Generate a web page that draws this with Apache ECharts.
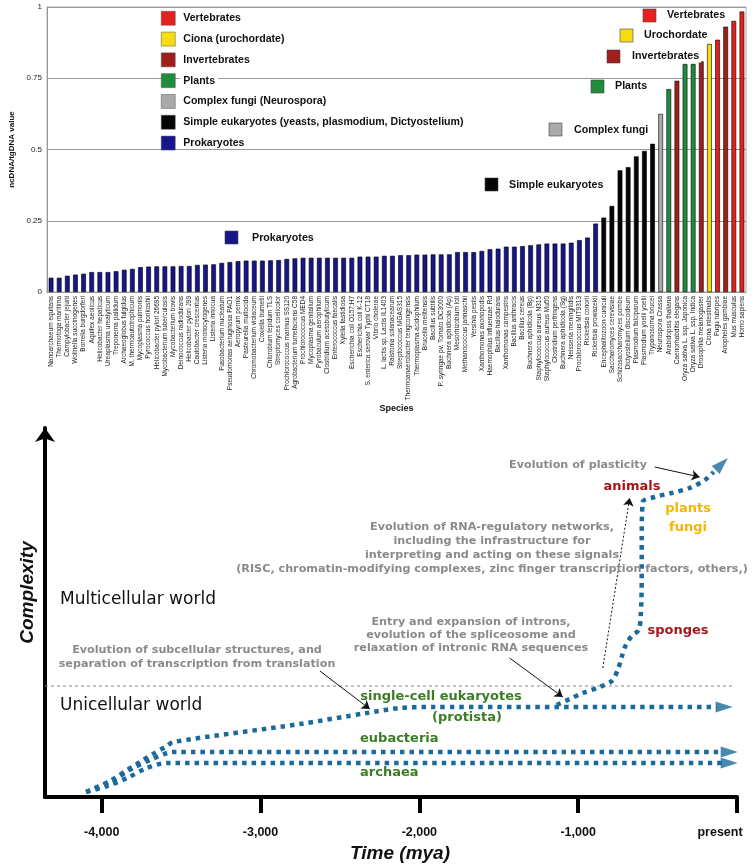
<!DOCTYPE html>
<html><head><meta charset="utf-8">
<script src="https://cdn.jsdelivr.net/npm/echarts@6/dist/echarts.min.js"></script>
<style>html,body{margin:0;padding:0;background:#fff}#c{width:755px;height:866px}</style>
</head><body><div id="c"></div>
<script>
// ---------- top chart data ----------
const species = [
 'Nanoarchaeum equitans','Thermotoga maritima','Campylobacter jejuni','Wolinella succinogenes','Borrelia burgdorferi',
 'Aquifex aeolicus','Helicobacter hepaticus','Ureaplasma urealyticum','Treponema pallidum','Archaeoglobus fulgidus',
 'M. thermoautotrophicum','Mycoplasma pulmonis','Pyrococcus horikoshii','Helicobacter pylori 26695','Mycobacterium tuberculosis',
 'Mycobacterium bovis','Deinococcus radiodurans','Helicobacter pylori J99','Caulobacter crescentus','Listeria monocytogenes',
 'Listeria innocua','Fusobacterium nucleatum','Pseudomonas aeruginosa PAO1','Aeropyrum pernix','Pasteurella multocida',
 'Chromobacterium violaceum','Coxiella burnetii','Chlorobium tepidum TLS','Streptomyces coelicolor','Prochlorococcus marinus SS120',
 'Agrobacterium tumefaciens C58','Prochlorococcus MED4','Mycoplasma genitalium','Pyrobaculum aerophilum','Clostridium acetobutylicum',
 'Enterococcus faecalis','Xylella fastidiosa','Escherichia coli O157:H7','Escherichia coli K-12','S. enterica serovar Typhi CT18',
 'Vibrio cholerae','L. lactis sp. Lactis IL1403','Ralstonia solanacearum','Streptococcus MGAS315','Thermoanaerobacter tengcongensis',
 'Thermoplasma acidophilum','Brucella melitensis','Bacillus subtilis','P. syringae pv. Tomato DC3000','Buchnera aphidicola (Ap)',
 'Mesorhizobium loti','Methanococcus jannaschii','Yersinia pestis','Xanthomonas axonopodis','Haemophilus influenzae Rd',
 'Bacillus halodurans','Xanthomonas campestris','Bacillus anthracis','Bacillus cereus','Buchnera aphidicola (Bp)',
 'Staphylococcus aureus N315','Staphylococcus aureus Mu50','Clostridium perfringens','Buchnera aphidicola (Sg)','Neisseria meningitidis',
 'Prochlorococcus MIT9313','Rickettsia conorii','Rickettsia prowazekii','Encephalitozoon cuniculi','Saccharomyces cerevisiae',
 'Schizosaccharomyces pombe','Dictyostelium discoideum','Plasmodium falciparum','Plasmodium yoelii yoelii','Trypanosoma brucei',
 'Neurospora Crassa','Arabidopsis thaliana','Caenorhabditis elegans','Oryza sativa L. ssp. Japonica','Oryza sativa L. ssp. Indica',
 'Drosophila melanogaster','Ciona intestinalis','Fugu rubripes','Anopheles gambiae','Mus musculus','Homo sapiens'
];
const ncRatio = [
 0.050,0.050,0.057,0.061,0.064,0.070,0.070,0.070,0.073,0.078,
 0.081,0.087,0.089,0.090,0.090,0.090,0.091,0.091,0.095,0.096,
 0.097,0.102,0.105,0.108,0.110,0.110,0.110,0.111,0.112,0.116,
 0.118,0.120,0.120,0.120,0.120,0.120,0.120,0.120,0.124,0.124,
 0.124,0.127,0.127,0.129,0.129,0.131,0.131,0.132,0.132,0.132,
 0.140,0.140,0.140,0.144,0.150,0.152,0.159,0.159,0.161,0.164,
 0.167,0.170,0.170,0.170,0.173,0.182,0.191,0.240,0.261,0.302,
 0.427,0.438,0.476,0.495,0.520,0.625,0.712,0.741,0.800,0.800,
 0.809,0.870,0.885,0.931,0.951,0.984
];
// group code per species: P prokaryote, S simple eukaryote, F complex fungi, L plant, I invertebrate, C ciona, V vertebrate
const speciesGroup = [
 'P','P','P','P','P','P','P','P','P','P','P','P','P','P','P','P','P','P','P','P',
 'P','P','P','P','P','P','P','P','P','P','P','P','P','P','P','P','P','P','P','P',
 'P','P','P','P','P','P','P','P','P','P','P','P','P','P','P','P','P','P','P','P',
 'P','P','P','P','P','P','P','P','S','S','S','S','S','S','S','F','L','I','L','L',
 'I','C','V','I','V','V'
];
const groupCodes  = ['V','C','I','L','F','S','P'];
const groupNames  = ['Vertebrates','Ciona (urochordate)','Invertebrates','Plants','Complex fungi (Neurospora)','Simple eukaryotes (yeasts, plasmodium, Dictyostelium)','Prokaryotes'];
const groupColors = ['#e4211d','#f8dc12','#a11f1b','#1f8d3b','#aaaaaa','#050505','#16168a'];

// ---------- bottom diagram data (time in mya, complexity in arbitrary units) ----------
const timeTicks = [-4000, -3000, -2000, -1000, 0];
const archaeaPath    = [[-4098,5],[-3966,11],[-3840,19],[-3715,29],[-3589,34],[-96,34]];
const eubacteriaPath = [[-4098,5],[-3929,17],[-3803,29],[-3696,37],[-3589,44],[-3545,45],[-96,45]];
const eukaryotePath  = [[-4098,5],[-3947,16],[-3840,27],[-3759,35],[-3677,43],[-3589,51],[-3551,55],[-2752,73],[-2330,84],[-2123,89],[-1915,90],[-128,90]];
const multicellPath  = [[-1135,92],[-1053,98],[-971,104],[-864,110],[-789,116],[-751,127],[-726,140],[-700,152],[-663,161],[-619,167],[-606,182],[-600,217],[-600,257],[-593,295],[-518,300],[-411,304],[-298,309],[-203,317],[-147,325]];
const arrowHeads     = [[-49,34,-90],[-49,45,-90],[-81,90,-90],[-96,333,-45]];
const cellBoundary   = [[-4357,111],[-27,111]];
const noteArrows     = [[[-2626,126],[-2312,88]],[[-1432,139],[-1097,100]],[[-518,330],[-235,320]]];
const noteDotted     = [[[-845,129],[-676,299]]];

const FONT = 'Liberation Sans, Arial, Helvetica, sans-serif';
const DJ = 'DejaVu Sans, Verdana, sans-serif';
const BLUE = '#1c6a9b';
const GRAY = '#8a8a8a';
const GREEN = '#3a7d24';
const DRED = '#a3161a';

const chart = echarts.init(document.getElementById('c'), null, {renderer:'canvas'});

const barSeries = groupCodes.map((g, k) => ({
  name: groupNames[k], type: 'bar', stack: 'ratio', xAxisIndex: 0, yAxisIndex: 0,
  barWidth: '58%',
  itemStyle: { color: groupColors[k], borderColor: '#000', borderWidth: 0.6 },
  data: ncRatio.map((v, i) => speciesGroup[i] === g ? v : '-'),
  silent: true
}));

const dotted = { color: BLUE, width: 4.5, type: [4.5, 5], cap: 'butt' };
const pathSeries = [archaeaPath, eubacteriaPath, eukaryotePath, multicellPath].map(p => ({
  type: 'line', xAxisIndex: 1, yAxisIndex: 1, data: p, showSymbol: false, smooth: 0.3,
  lineStyle: dotted, silent: true, z: 3
}));

const rightLabels = [
  ['Vertebrates', 0, 643, 9, 665, 15],
  ['Urochordate', 1, 620, 29, 642, 35],
  ['Invertebrates', 2, 607, 50, 630, 56],
  ['Plants', 3, 591, 80, 613, 86],
  ['Complex fungi', 4, 549, 123, 572, 130],
  ['Simple eukaryotes', 5, 485, 178, 507, 185],
  ['Prokaryotes', 6, 225, 231, 250, 238]
];
const graphics = [];
rightLabels.forEach(r => {
  graphics.push({ type:'rect', shape:{x:r[2], y:r[3], width:13, height:13}, style:{fill:groupColors[r[1]], stroke:'#444', lineWidth:0.6}, z:10 });
  graphics.push({ type:'text', x:r[4], y:r[5], style:{text:r[0], fill:'#111', font:'bold 10.7px '+FONT, verticalAlign:'middle', backgroundColor:'#fff', padding:[1,2]}, z:10 });
});
const gtext = (txt, x, y, opt) => graphics.push(Object.assign({ type:'text', x, y, z:10,
  style: Object.assign({ text: txt, align:'center', verticalAlign:'middle', font:'bold 11.2px '+DJ, fill:GRAY }, opt || {}) }));
gtext('Multicellular world', 60, 600, { align:'left', font:'17px '+DJ, fill:'#111' });
gtext('Unicellular world', 60, 706, { align:'left', font:'17px '+DJ, fill:'#111' });
gtext('Evolution of subcellular structures, and\nseparation of transcription from translation', 197, 657, { lineHeight:13.5 });
gtext('Evolution of RNA-regulatory networks,\nincluding the infrastructure for\ninterpreting and acting on these signals\n(RISC, chromatin-modifying complexes, zinc finger transcription factors, others,)', 492, 548, { lineHeight:14 });
gtext('Entry and expansion of introns,\nevolution of the spliceosome and\nrelaxation of intronic RNA sequences', 471, 635, { lineHeight:13 });
gtext('Evolution of plasticity', 578, 465);
gtext('animals', 632, 487, { font:'bold 13px '+DJ, fill:DRED });
gtext('plants', 688, 509, { font:'bold 13px '+DJ, fill:'#f3b600' });
gtext('fungi', 688, 528, { font:'bold 13px '+DJ, fill:'#f3b600' });
gtext('sponges', 678, 631, { font:'bold 13px '+DJ, fill:DRED });
gtext('single-cell eukaryotes', 441, 697, { font:'bold 13px '+DJ, fill:GREEN });
gtext('(protista)', 467, 718, { font:'bold 13px '+DJ, fill:GREEN });
gtext('eubacteria', 360, 739, { align:'left', font:'bold 13px '+DJ, fill:GREEN });
gtext('archaea', 360, 773, { align:'left', font:'bold 13px '+DJ, fill:GREEN });

const option = {
  backgroundColor: '#fff',
  animation: false,
  textStyle: { fontFamily: FONT },
  grid: [
    { left: 47, top: 7, width: 699, height: 285, show: true, borderColor: '#aaa', borderWidth: 1, outerBoundsMode: 'none', containLabel: false },
    { left: 45, top: 428, width: 692, height: 369, outerBoundsMode: 'none', containLabel: false }
  ],
  legend: {
    data: groupNames, orient: 'vertical', left: 161, top: 11, padding: 0, itemWidth: 14, itemHeight: 14, itemGap: 6.3,
    icon: 'rect', selectedMode: false,
    itemStyle: { borderColor: '#555', borderWidth: 0.5 },
    textStyle: { fontSize: 10.6, fontWeight: 'bold', color: '#111', fontFamily: FONT, backgroundColor:'#fff', padding:[0,3] }
  },
  xAxis: [
    { type: 'category', gridIndex: 0, data: species,
      axisLine: { lineStyle: { color: '#999' } }, axisTick: { show: false },
      axisLabel: { rotate: 90, interval: 0, fontSize: 6.5, margin: 4, color: '#222' },
      name: 'Species', nameLocation: 'middle', nameGap: 112,
      nameTextStyle: { fontSize: 9, fontWeight: 'bold', color: '#111' } },
    { type: 'value', gridIndex: 1, min: -4357, max: 0,
      axisLine: { onZero: false, lineStyle: { color: '#000', width: 4 } },
      axisTick: { show: true, customValues: timeTicks, length: 16, lineStyle: { color: '#000', width: 4 } },
      axisLabel: { customValues: timeTicks, margin: 29, fontSize: 12.5, fontWeight: 'bold', color: '#111',
        formatter: v => v === 0 ? '{p|present}' : (v < 0 ? '-' : '') + Math.abs(v).toLocaleString('en-US'),
        rich: { p: { fontSize: 12.5, fontWeight: 'bold', color: '#111', padding: [0, 34, 0, 0] } } },
      splitLine: { show: false },
      name: 'Time (mya)', nameLocation: 'middle', nameGap: 47,
      nameTextStyle: { fontSize: 19, fontWeight: 'bold', fontStyle: 'italic', color: '#111', padding:[0,0,0,18] } }
  ],
  yAxis: [
    { type: 'value', gridIndex: 0, min: 0, max: 1, interval: 0.25,
      axisLine: { show: true, lineStyle: { color: '#999' } }, axisTick: { show: false },
      axisLabel: { fontSize: 8, color: '#222', margin: 5 },
      splitLine: { lineStyle: { color: '#999', width: 1 } },
      name: 'ncDNA/tgDNA value', nameLocation: 'middle', nameGap: 30,
      nameTextStyle: { fontSize: 8, fontWeight: 'bold', color: '#111' } },
    { type: 'value', gridIndex: 1, min: 0, max: 369, position: 'left',
      axisLine: { show: true, onZero: false, lineStyle: { color: '#000', width: 4 }, symbol: ['none', 'arrow'], symbolSize: [15, 14] },
      axisTick: { show: false }, axisLabel: { show: false }, splitLine: { show: false },
      name: 'Complexity', nameLocation: 'middle', nameGap: 8,
      nameTextStyle: { fontSize: 19, fontWeight: 'bold', fontStyle: 'italic', color: '#111', padding:[0,0,0,40] } }
  ],
  graphic: graphics,
  series: [
    ...barSeries,
    { type: 'line', xAxisIndex: 1, yAxisIndex: 1, data: cellBoundary, showSymbol: false, silent: true,
      lineStyle: { color: '#888', width: 1, type: [3, 3] }, z: 1 },
    ...pathSeries,
    { type: 'scatter', xAxisIndex: 1, yAxisIndex: 1, silent: true, z: 4,
      data: arrowHeads.map(a => ({ value: [a[0], a[1]], symbolRotate: a[2] })),
      symbol: 'triangle', symbolSize: [11, 17], itemStyle: { color: BLUE } },
    { type: 'lines', coordinateSystem: 'cartesian2d', xAxisIndex: 1, yAxisIndex: 1, silent: true, z: 5,
      data: noteArrows.map(c => ({ coords: c })), symbol: ['none', 'arrow'], symbolSize: 8,
      lineStyle: { color: '#111', width: 1, opacity: 1 } },
    { type: 'lines', coordinateSystem: 'cartesian2d', xAxisIndex: 1, yAxisIndex: 1, silent: true, z: 5,
      data: noteDotted.map(c => ({ coords: c })), symbol: ['none', 'arrow'], symbolSize: 8,
      lineStyle: { color: '#111', width: 1, type: [2, 2], opacity: 1 } }
  ]
};
chart.setOption(option);
</script>
</body></html>
